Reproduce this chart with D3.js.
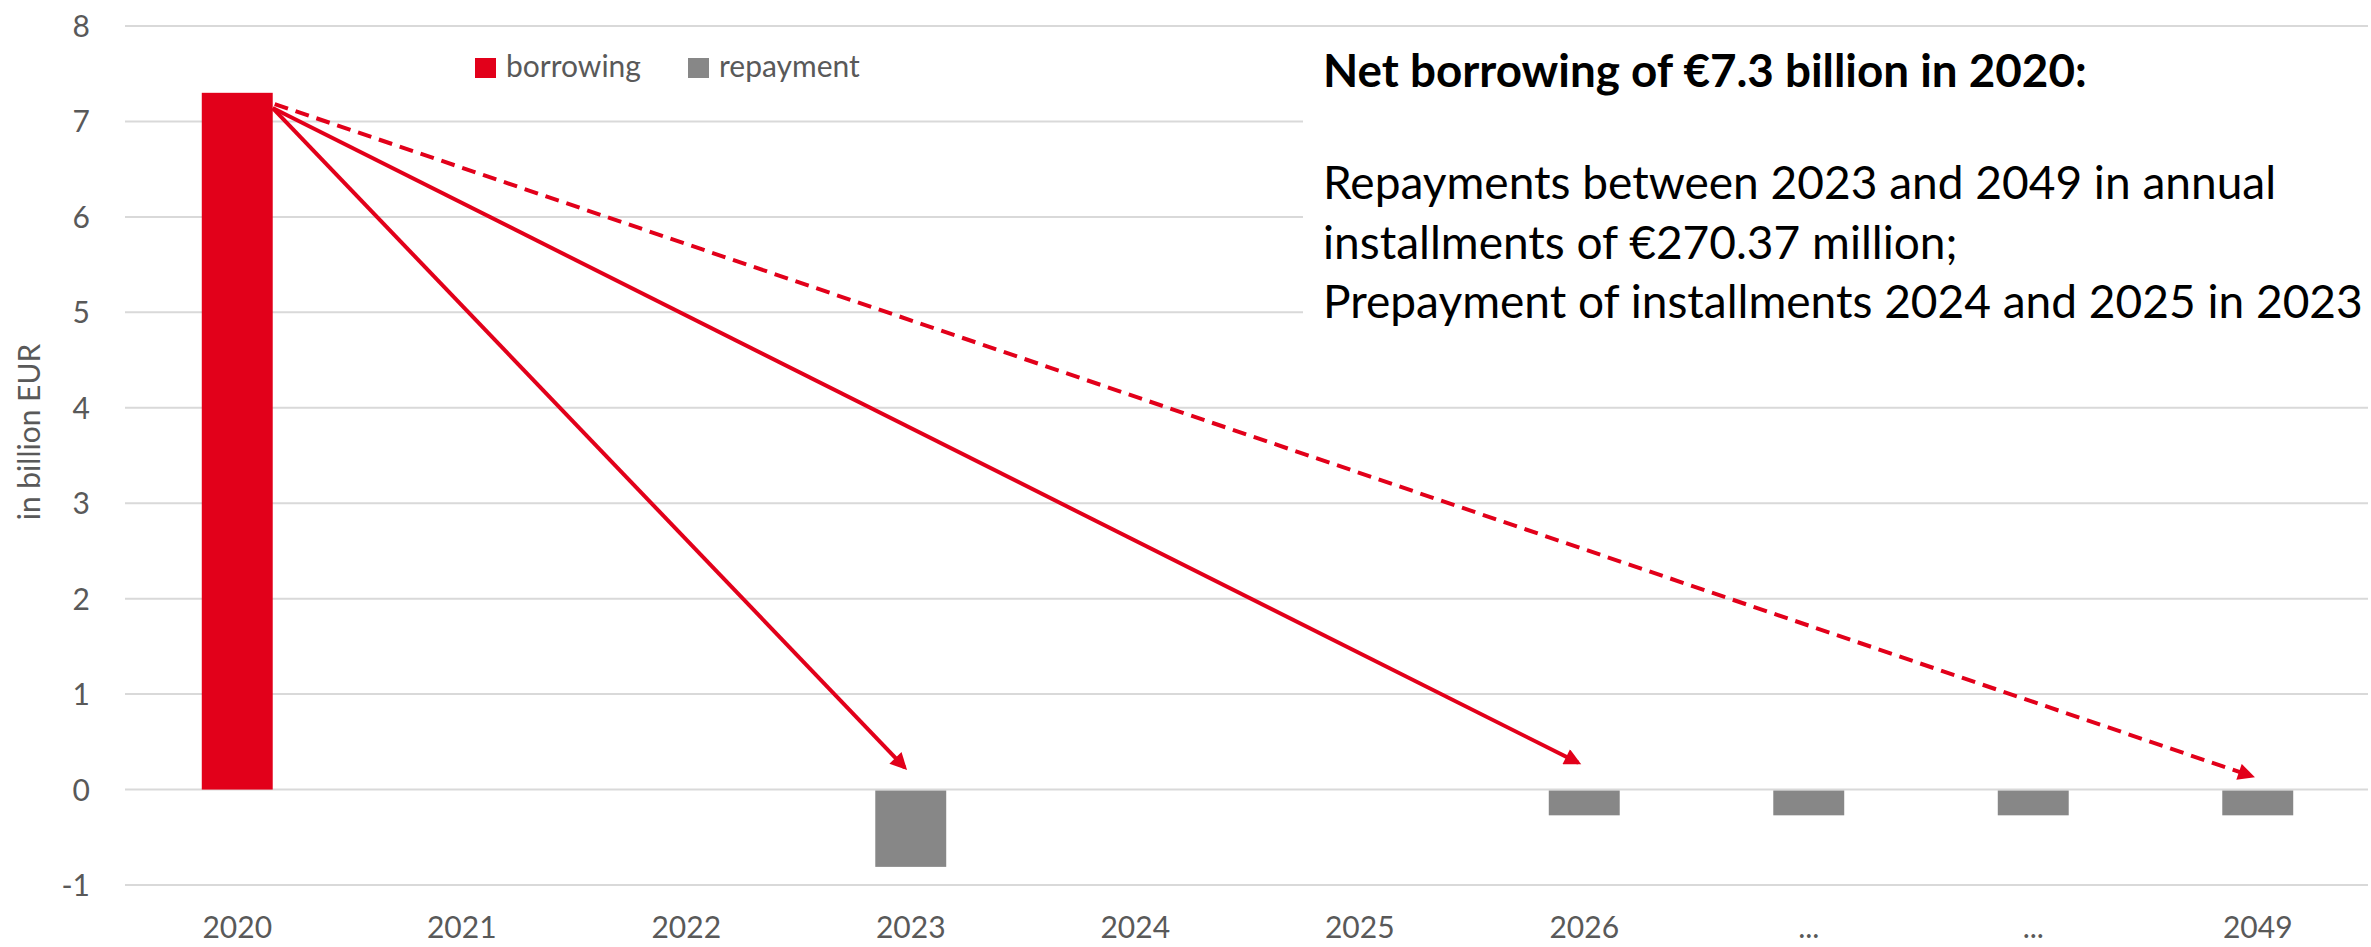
<!DOCTYPE html>
<html>
<head>
  <script src="https://d3js.org/d3.v7.min.js"></script>
  <style>
    body { margin: 0; background: #fff; }
    text { font-family: Lato, "Open Sans", sans-serif; }
  </style>
</head>
<body>
  <svg id="canvas" width="2371" height="947"></svg>
  <script>
    // chart data
    const categories = ["2020", "2021", "2022", "2023", "2024", "2025", "2026", "...", "…", "2049"];
    const borrowing = [7.3, 0, 0, 0, 0, 0, 0, 0, 0, 0];
    const repayment = [0, 0, 0, -0.81, 0, 0, -0.27, -0.27, -0.27, -0.27];
    const yTicks = [-1, 0, 1, 2, 3, 4, 5, 6, 7, 8];
    const seriesNames = ["borrowing", "repayment"];

    // annotation arrows: from top of the 2020 bar down to repayment years
    const arrowFrom = { cat: "2020", value: 7.14 };
    const arrowTo = [
      { cat: "2023", value: 0.23, dashed: false },
      { cat: "2026", value: 0.28, dashed: false },
      { cat: "2049", value: 0.14, dashed: true }
    ];

    const noteTitle = "Net borrowing of €7.3 billion in 2020:";
    const noteLines = [
      "Repayments between 2023 and 2049 in annual",
      "installments of €270.37 million;",
      "Prepayment of installments 2024 and 2025 in 2023"
    ];

    const red = "#E2001A", grey = "#878787", textGrey = "#595959", grid = "#D9D9D9";

    const svg = d3.select("#canvas");
    const margin = { left: 125, right: 1, top: 26, bottom: 62 };
    const width = +svg.attr("width");
    const height = +svg.attr("height");

    const x = d3.scaleBand()
      .domain(categories)
      .range([margin.left, width - margin.right])
      .paddingInner(0.684)
      .paddingOuter(0.342);

    const y = d3.scaleLinear()
      .domain([-1, 8])
      .range([height - margin.bottom, margin.top]);

    // gridlines
    svg.append("g")
      .selectAll("line")
      .data(yTicks)
      .join("line")
      .attr("x1", margin.left)
      .attr("x2", width - 3)
      .attr("y1", d => y(d))
      .attr("y2", d => y(d))
      .attr("stroke", grid)
      .attr("stroke-width", 2);

    // y axis labels
    const yAxis = svg.append("g")
      .attr("transform", `translate(${margin.left - 35},0)`)
      .call(d3.axisLeft(y).tickValues(yTicks).tickSize(0).tickFormat(d => String(d)));
    yAxis.select(".domain").remove();
    yAxis.selectAll("text")
      .attr("fill", textGrey)
      .style("font-size", "30px")
      .attr("x", 0)
      .attr("dy", "0.35em");

    // x axis labels
    const xAxis = svg.append("g")
      .attr("transform", `translate(0,938)`)
      .call(d3.axisBottom(x).tickSize(0).tickFormat(d => d === "…" ? "..." : d));
    xAxis.select(".domain").remove();
    xAxis.selectAll("text")
      .attr("fill", textGrey)
      .style("font-size", "30px")
      .attr("y", 0)
      .attr("dy", 0);

    // axis title
    svg.append("text")
      .attr("transform", `translate(40,432) rotate(-90)`)
      .attr("text-anchor", "middle")
      .attr("fill", textGrey)
      .style("font-size", "30px")
      .text("in billion EUR");

    // bars
    svg.append("g")
      .selectAll("rect")
      .data(categories.map((c, i) => ({ c, v: borrowing[i] })).filter(d => d.v !== 0))
      .join("rect")
      .attr("x", d => x(d.c))
      .attr("width", x.bandwidth())
      .attr("y", d => y(d.v))
      .attr("height", d => y(0) - y(d.v))
      .attr("fill", red);

    svg.append("g")
      .selectAll("rect")
      .data(categories.map((c, i) => ({ c, v: repayment[i] })).filter(d => d.v !== 0))
      .join("rect")
      .attr("x", d => x(d.c))
      .attr("width", x.bandwidth())
      .attr("y", y(0) + 1)
      .attr("height", d => y(d.v) - y(0) - 1)
      .attr("fill", grey);

    // arrow marker
    svg.append("defs").append("marker")
      .attr("id", "head")
      .attr("viewBox", "0 0 10 10")
      .attr("refX", 8)
      .attr("refY", 5)
      .attr("markerWidth", 4.5)
      .attr("markerHeight", 4.2)
      .attr("markerUnits", "strokeWidth")
      .attr("orient", "auto")
      .append("path")
      .attr("d", "M0,0L10,5L0,10Z")
      .attr("fill", red);

    const x0 = x(arrowFrom.cat) + x.bandwidth();
    svg.append("g")
      .selectAll("line")
      .data(arrowTo)
      .join("line")
      .attr("x1", d => x0 + (d.dashed ? 2 : 0))
      .attr("y1", d => y(arrowFrom.value) - (d.dashed ? 4 : 0))
      .attr("x2", d => x(d.cat) + x.bandwidth() / 2 - 6)
      .attr("y2", d => y(d.value))
      .attr("stroke", red)
      .attr("stroke-width", 4)
      .attr("stroke-dasharray", d => d.dashed ? "14 8" : null)
      .attr("marker-end", "url(#head)");

    // note box
    svg.append("rect")
      .attr("x", 1303)
      .attr("y", 36)
      .attr("width", width - 1303)
      .attr("height", 300)
      .attr("fill", "#fff");

    const title = svg.append("text")
      .attr("x", 1323)
      .attr("y", 87)
      .attr("fill", "#000")
      .style("font-size", "40px")
      .style("font-weight", "bold")
      .text(noteTitle);
    // fit the bold line to the width it has in the source
    const tw = title.node().getComputedTextLength();
    title.style("font-size", (40 * 764 / tw) + "px");

    const notes = svg.append("g")
      .selectAll("text")
      .data(noteLines)
      .join("text")
      .attr("x", 1323)
      .attr("y", (d, i) => 199 + i * 59.5)
      .attr("fill", "#000")
      .style("font-size", "40px")
      .text(d => d);
    // size the body so the longest line ends where it does in the source
    const lw = notes.nodes()[2].getComputedTextLength();
    notes.style("font-size", (40 * 1040 / lw) + "px");

    // legend
    const legendX = [475, 688];
    const legend = svg.append("g")
      .selectAll("g")
      .data(seriesNames)
      .join("g")
      .attr("transform", (d, i) => `translate(${legendX[i]},58)`);
    legend.append("rect")
      .attr("width", 21)
      .attr("height", 20)
      .attr("fill", (d, i) => i === 0 ? red : grey);
    legend.append("text")
      .attr("x", 31)
      .attr("y", 19)
      .attr("fill", textGrey)
      .style("font-size", "30px")
      .text(d => d);
  </script>
</body>
</html>
